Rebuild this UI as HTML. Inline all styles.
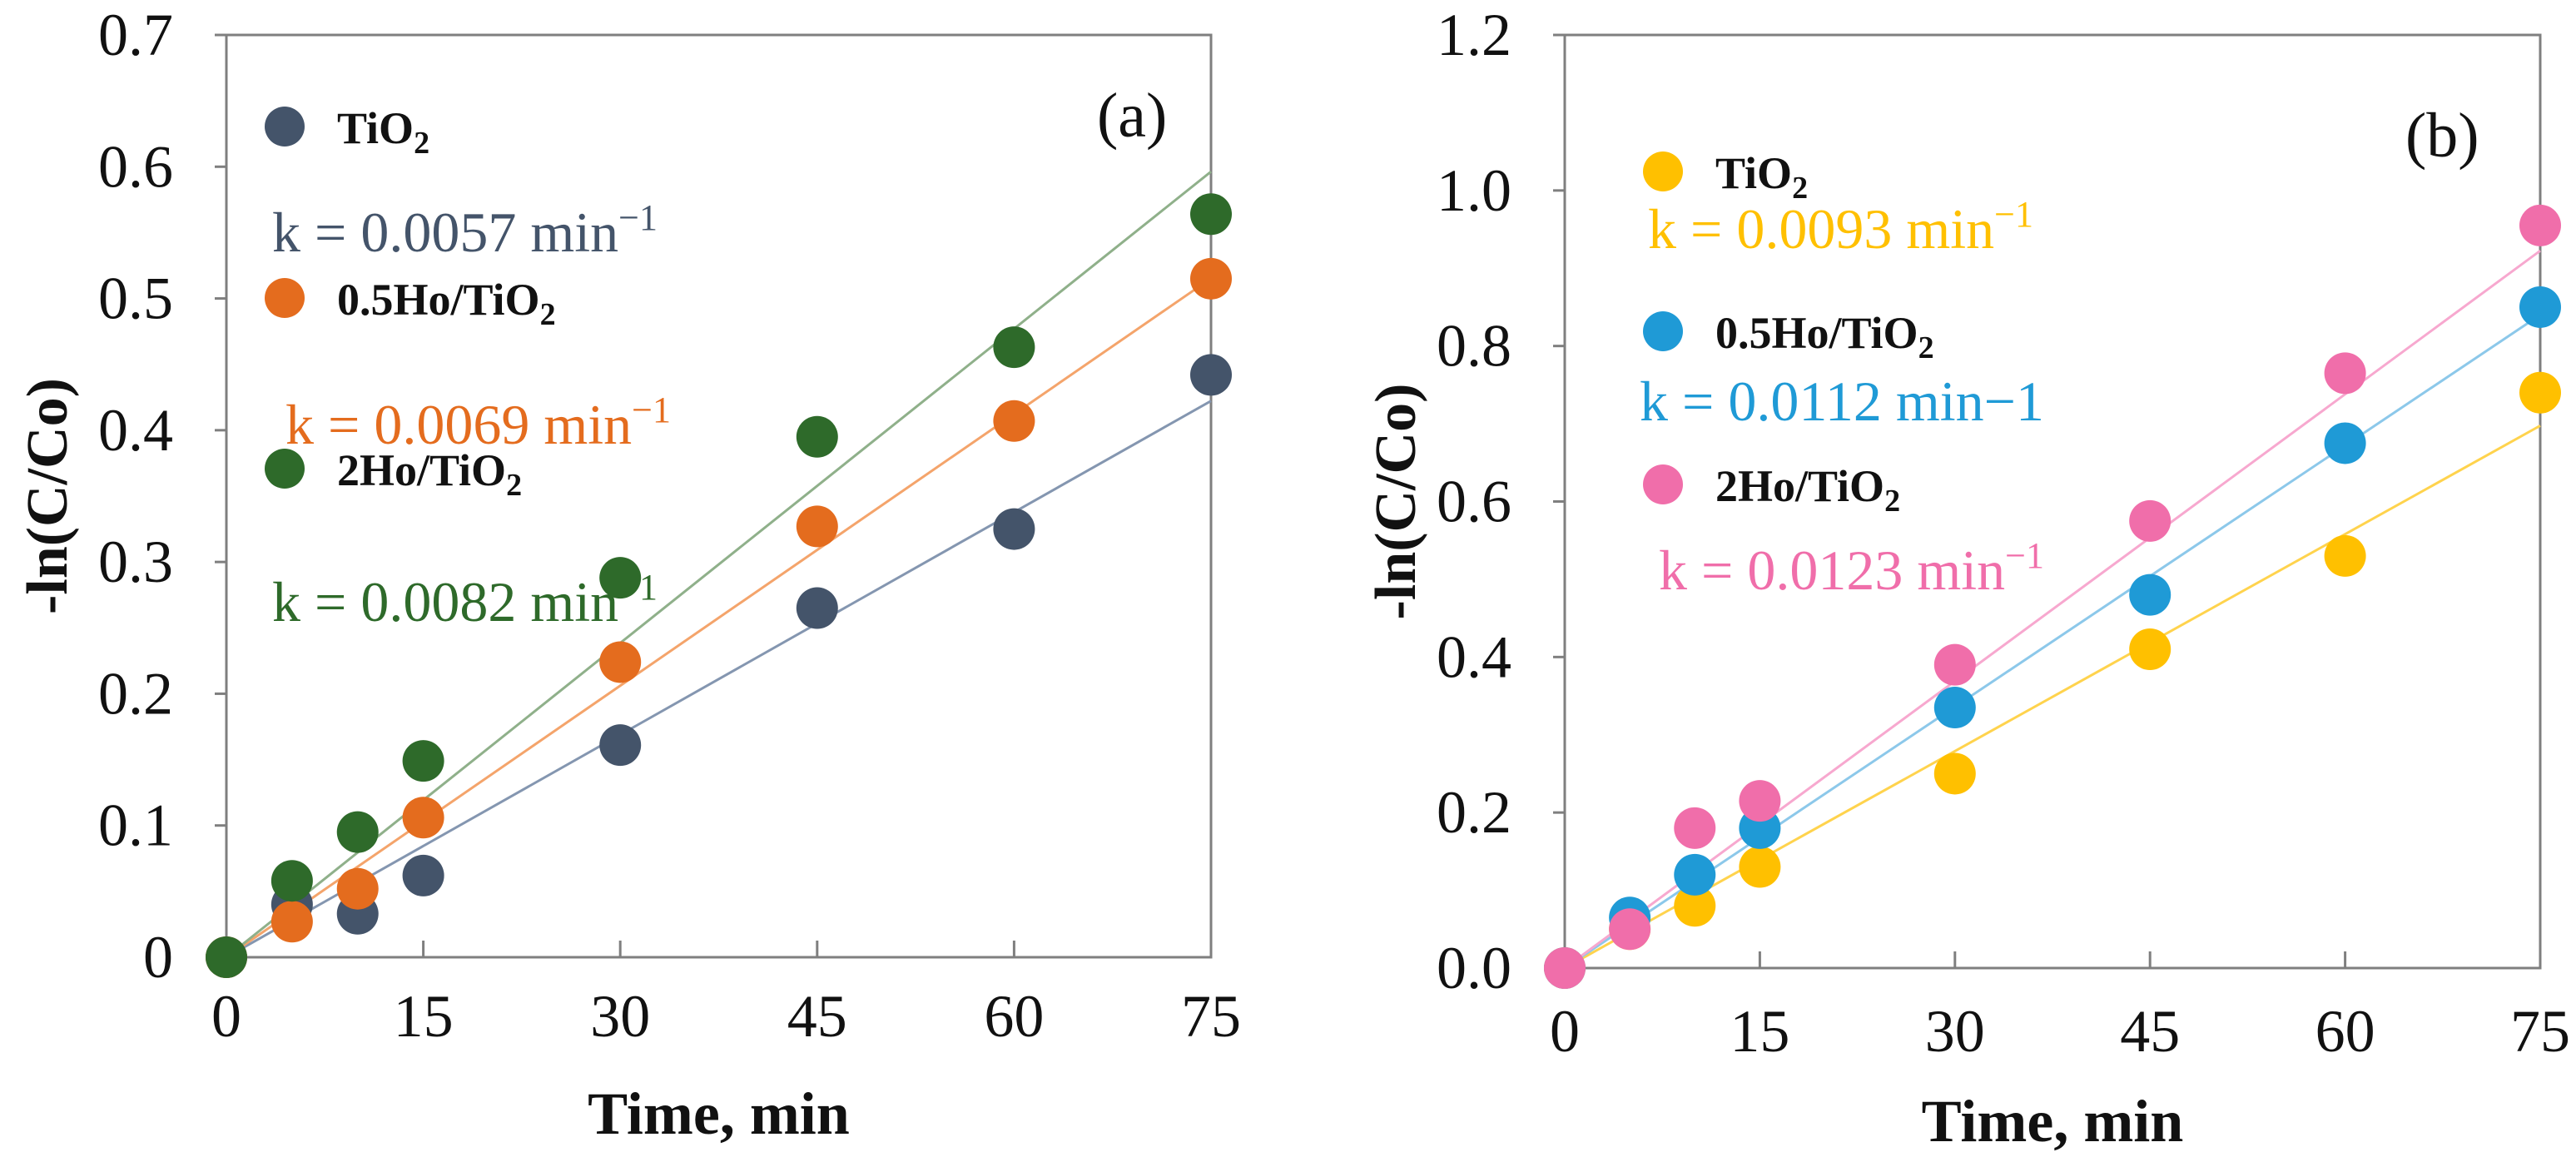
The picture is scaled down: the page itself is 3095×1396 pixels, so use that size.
<!DOCTYPE html>
<html><head><meta charset="utf-8"><style>
body{margin:0;background:#fff;overflow:hidden}
svg{display:block;font-family:"Liberation Serif",serif}
</style></head><body>
<svg id="c" width="3095" height="1396" viewBox="0 0 3095 1396"></svg>
<script>
const timesA=[0,5,10,15,30,45,60,75];
const tio2A=[0,0.04,0.033,0.062,0.161,0.265,0.325,0.442];
const ho05A=[0,0.027,0.052,0.106,0.224,0.327,0.407,0.515];
const ho2A=[0,0.058,0.095,0.149,0.288,0.395,0.463,0.564];
const slopesA=[0.00563,0.00687,0.00795];
const yTicksA=["0","0.1","0.2","0.3","0.4","0.5","0.6","0.7"];
const timesB=[0,5,10,15,30,45,60,75];
const tio2B=[0,0.05,0.08,0.13,0.25,0.41,0.53,0.74];
const ho05B=[0,0.065,0.12,0.18,0.335,0.48,0.675,0.85];
const ho2B=[0,0.05,0.18,0.215,0.39,0.575,0.765,0.955];
const slopesB=[0.0093,0.0112,0.0123];
const yTicksB=["0.0","0.2","0.4","0.6","0.8","1.0","1.2"];
const xTicks=[0,15,30,45,60,75];
const NS="http://www.w3.org/2000/svg";
const svg=document.getElementById('c');
function mk(tag,attrs,parent,text){const e=document.createElementNS(NS,tag);for(const k in attrs)e.setAttribute(k,attrs[k]);if(text!==undefined)e.textContent=text;(parent||svg).appendChild(e);return e;}
function panel(cfg){
  const g=mk('g',{});
  
  
  const X=v=>cfg.x0+(v-0)/75*(cfg.x1-cfg.x0);
  const Y=v=>cfg.y0-v/cfg.ymax*(cfg.y0-cfg.y1);
  const fr=mk('rect',{x:cfg.x0,y:cfg.y1,width:cfg.x1-cfg.x0,height:cfg.y0-cfg.y1,fill:'none',stroke:'#7f7f7f','stroke-width':3},g);
  
  
  cfg.yt.forEach(t=>{const v=parseFloat(t);const y=Y(v);
    mk('line',{x1:cfg.x0-14,x2:cfg.x0,y1:y,y2:y,stroke:'#7f7f7f','stroke-width':3},g);
    const tx=mk('text',{x:cfg.x0-64,y:y+24,'text-anchor':'end','font-size':72,fill:'#111'},g,t);
    
    
  });
  xTicks.forEach(t=>{const x=X(t);
    mk('line',{x1:x,x2:x,y1:cfg.y0,y2:cfg.y0-20,stroke:'#7f7f7f','stroke-width':3},g);
    const tx=mk('text',{x:x,y:cfg.y0+cfg.xlo,'text-anchor':'middle','font-size':72,fill:'#111'},g,t);
    
    
  });
  const yt=mk('text',{transform:`translate(${cfg.ytx},${(cfg.y0+cfg.y1)/2}) rotate(-90)`,'text-anchor':'middle','font-size':70,'font-weight':'bold',fill:'#111'},g,'-ln(C/Co)');
  
  
  const xt=mk('text',{x:(cfg.x0+cfg.x1)/2,y:cfg.y0+cfg.xto,'text-anchor':'middle','font-size':72,'font-weight':'bold',fill:'#111'},g,'Time, min');
  
  
  cfg.series.forEach((s,i)=>{
    const ln=mk('line',{x1:X(0),y1:Y(0),x2:X(75),y2:Y(cfg.slopes[i]*75),stroke:s.lc,'stroke-width':3},g);
    
    
  });
  cfg.series.forEach(s=>{
    s.vals.forEach((v,j)=>{
      const c=mk('circle',{cx:X(cfg.times[j]),cy:Y(v),r:25,fill:s.c},g);
      
      
    });
  });
  cfg.series.forEach((s,i)=>{
    const lg=mk('g',{},g);
    
    
    mk('circle',{cx:cfg.lx,cy:s.ly,r:24,fill:s.c},lg);
    const t=mk('text',{x:cfg.lx+63,y:s.ly+20,'font-size':54,'font-weight':'bold',fill:'#111'},lg);
    mk('tspan',{},t,s.label);
    mk('tspan',{'font-size':38,dy:12},t,'2');
    const k=mk('text',{x:s.kx,y:s.ky,'font-size':68,fill:s.c},g);
    
    
    mk('tspan',{},k,s.ktext);
    mk('tspan',{'font-size':44,dy:-26},k,s.sup);
  });
  const pl=mk('text',{x:cfg.px,y:cfg.py,'font-size':76,fill:'#111'},g,cfg.plabel);
  
  
}
panel({name:'panel-a',x0:272,x1:1455,y0:1150,y1:42,ymax:0.7,yt:yTicksA,times:timesA,slopes:slopesA,ytx:80,lx:342,px:1318,py:164,plabel:'(a)',xlo:95,xto:212,
 series:[
  {key:'tio2',vals:tio2A,c:'#44546a',lc:'#8496b0',label:'TiO',ly:152,kx:327,ky:302,ktext:'k = 0.0057  min',sup:'−1'},
  {key:'ho05',vals:ho05A,c:'#e46c1e',lc:'#f4a46b',label:'0.5Ho/TiO',ly:358,kx:343,ky:533,ktext:'k = 0.0069  min',sup:'−1'},
  {key:'ho2',vals:ho2A,c:'#2e6a2a',lc:'#8fb08a',label:'2Ho/TiO',ly:563,kx:327,ky:746,ktext:'k = 0.0082  min',sup:'−1'}]});
panel({name:'panel-b',x0:1880,x1:3052,y0:1163,y1:42,ymax:1.2,yt:yTicksB,times:timesB,slopes:slopesB,ytx:1700,lx:1998,px:2890,py:188,plabel:'(b)',xlo:100,xto:208,
 series:[
  {key:'tio2',vals:tio2B,c:'#ffc000',lc:'#ffd34d',label:'TiO',ly:206,kx:1980,ky:298,ktext:'k = 0.0093  min',sup:'−1'},
  {key:'ho05',vals:ho05B,c:'#1f9ad6',lc:'#8cc8ea',label:'0.5Ho/TiO',ly:398,kx:1970,ky:505,ktext:'k = 0.0112  min−1',sup:''},
  {key:'ho2',vals:ho2B,c:'#f06eaa',lc:'#f7a8cf',label:'2Ho/TiO',ly:582,kx:1993,ky:708,ktext:'k = 0.0123  min',sup:'−1'}]});
</script>
</body></html>
